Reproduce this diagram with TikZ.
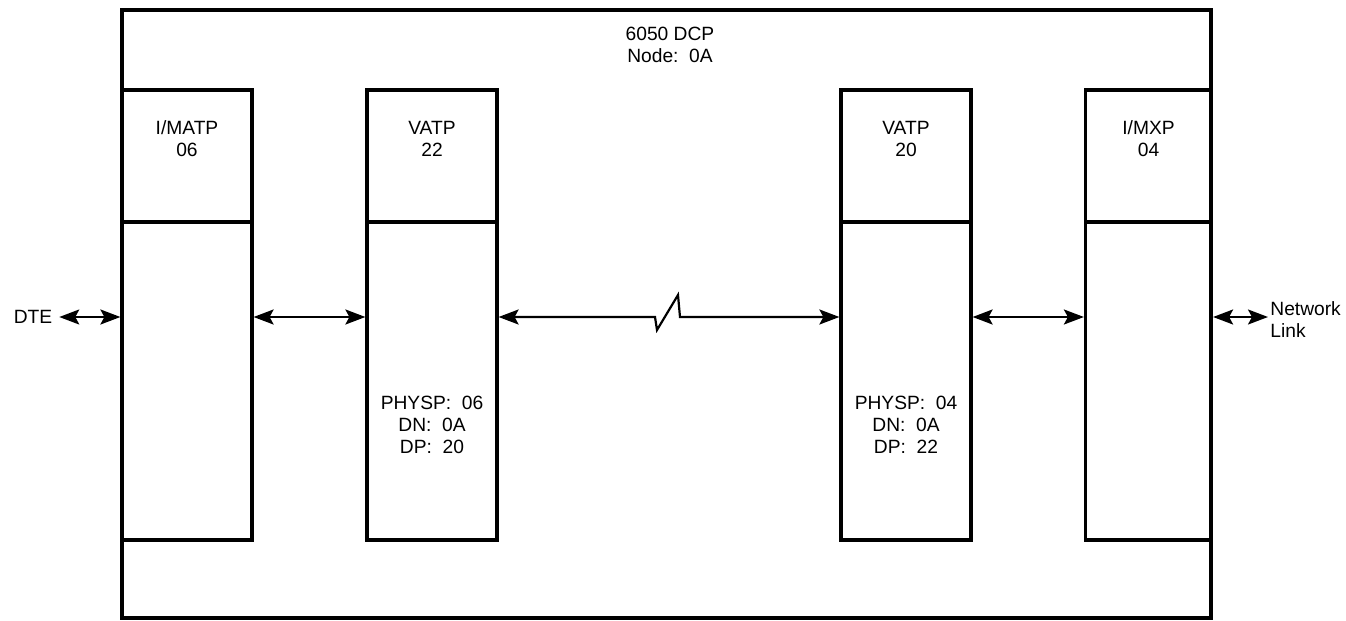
\documentclass[tikz,border=0pt]{standalone}
\usepackage{fontspec}
\setmainfont{Liberation Sans}
\usetikzlibrary{arrows.meta}

\begin{document}
\begin{tikzpicture}[x=0.5pt,y=-0.5pt,every node/.style={font=\fontsize{9.6}{11}\selectfont},
  frame/.style={draw,line width=1.6pt,minimum width=544.5pt,minimum height=304pt,inner sep=0pt},
  cell/.style={draw,line width=1.6pt,minimum width=65pt,inner sep=0pt},
  hdr/.style={cell,minimum height=66pt},
  body/.style={cell,minimum height=159pt},
  txt/.style={align=center,inner sep=0pt},
  link/.style={{Stealth[length=10pt,width=7.5pt,inset=2pt]}-{Stealth[length=10pt,width=7.5pt,inset=2pt]},line width=1.1pt}]
\useasboundingbox (0,0) rectangle (1346,621);
\node[frame] (dcp) at (666.5,314) {};
\node[txt] (dcpname) at (670,45) {6050 DCP\\Node:\ \ 0A};
% I/MATP
\node[hdr] (matph) at (187,156) {};
\node[body] (matpb) at (187,381) {};
\node[txt] (matpt) at (187,139) {I/MATP\\06};
% VATP 22
\node[hdr] (vatpah) at (432,156) {};
\node[body] (vatpab) at (432,381) {};
\node[txt] (vatpat) at (432,139) {VATP\\22};
\node[txt] (vatpap) at (432,425) {PHYSP:\ \ 06\\DN:\ \ 0A\\DP:\ \ 20};
% VATP 20
\node[hdr] (vatpbh) at (906,156) {};
\node[body] (vatpbb) at (906,381) {};
\node[txt] (vatpbt) at (906,139) {VATP\\20};
\node[txt] (vatpbp) at (906,425) {PHYSP:\ \ 04\\DN:\ \ 0A\\DP:\ \ 22};
% I/MXP
\node[hdr,minimum width=63pt] (mxph) at (1148.5,156) {};
\node[body,minimum width=63pt] (mxpb) at (1148.5,381) {};
\node[txt] (mxpt) at (1148.5,139) {I/MXP\\04};
% outside ends
\node (dte) at (33,317) {DTE};
\node[txt,align=left,anchor=west] (netlink) at (1270,320) {Network\\Link};
% links
\draw[link] (dte) -- (matpb.west |- dte);
\draw[link] (matpb.east |- dte) -- (vatpab.west |- dte);
\draw[link] (vatpab.east |- dte) -- (655,317) -- (657,330) -- (678,295) -- (680,317) -- (vatpbb.west |- dte);
\draw[link] (vatpbb.east |- dte) -- (mxpb.west |- dte);
\draw[link] (mxpb.east |- dte) -- ([xshift=-1pt]netlink.west |- dte);
\end{tikzpicture}
\end{document}
